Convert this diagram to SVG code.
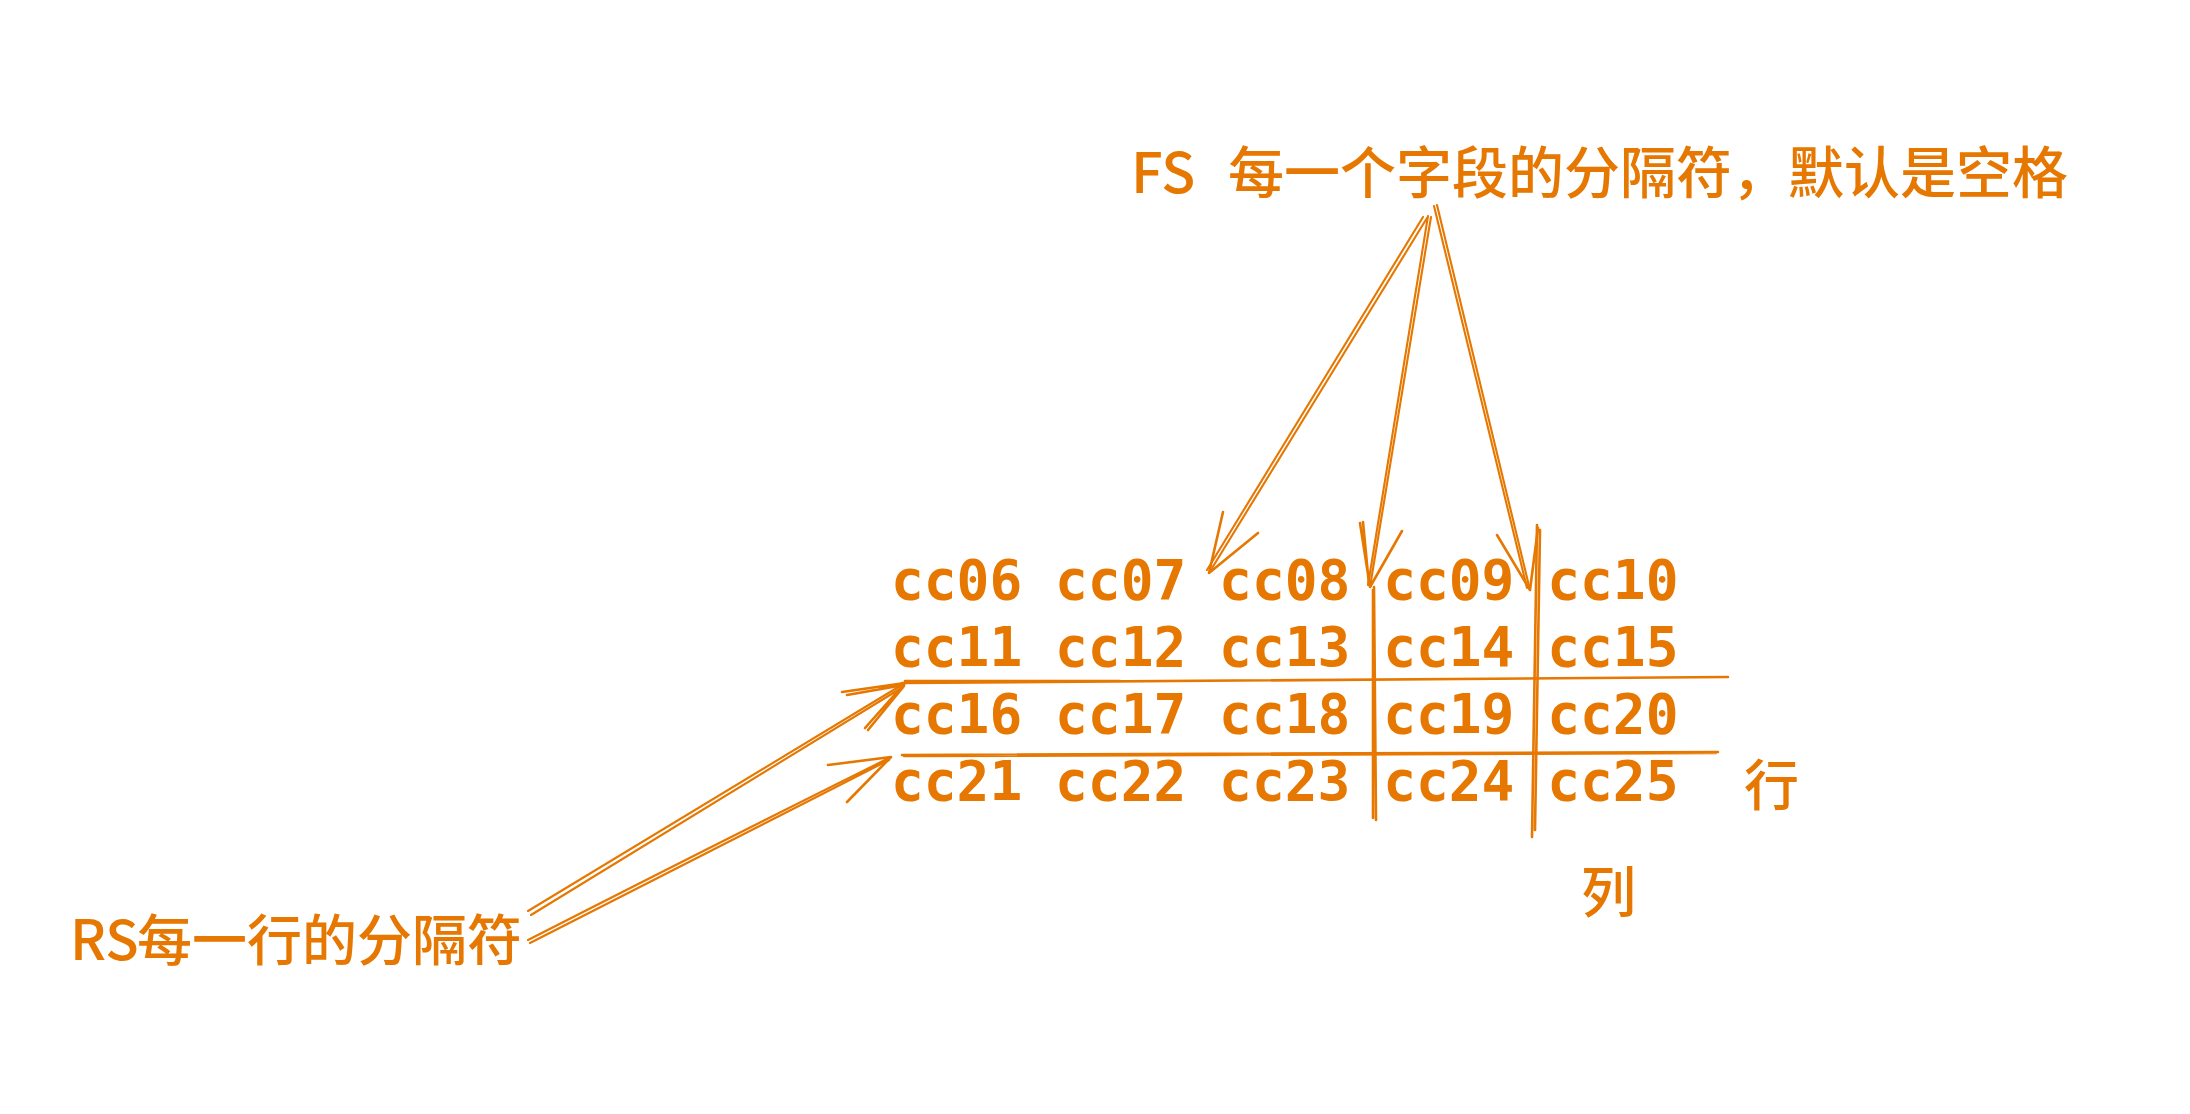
<svg xmlns="http://www.w3.org/2000/svg" width="2190" height="1114" viewBox="0 0 2190 1114">
<style>
.cjk{font-family:"Noto Sans CJK SC","Noto Sans",sans-serif;font-size:55px;fill:#e67700;font-weight:500}
.ttl{font-size:56px}
.mono{font-family:"DejaVu Sans Mono",monospace;font-size:54.5px;font-weight:bold;fill:#e67700}
.ln{fill:none;stroke:#e67700;stroke-width:2.6;stroke-linecap:round;stroke-linejoin:round}
.thin{fill:none;stroke:#e67700;stroke-width:2.1;stroke-linecap:round;stroke-linejoin:round}
</style>
<rect width="2190" height="1114" fill="#ffffff"/>
<g id="title">
<text class="cjk ttl"><tspan x="1131" y="193">FS</tspan><tspan x="1228" y="193">每一个字段的分隔符，默认是空格</tspan></text>
</g>
<g id="rs-label">
<text class="cjk"><tspan x="70" y="960">RS</tspan><tspan x="137" y="960">每一行的分隔符</tspan></text>
</g>
<g id="table">
<text class="mono" x="891" y="599">cc06 cc07 cc08 cc09 cc10</text>
<text class="mono" x="891" y="666">cc11 cc12 cc13 cc14 cc15</text>
<text class="mono" x="891" y="733">cc16 cc17 cc18 cc19 cc20</text>
<text class="mono" x="891" y="800">cc21 cc22 cc23 cc24 cc25</text>
<path class="ln" d="M902,683 L1728,677 M905,681 L1120,681"/>
<path class="ln" d="M902,755 L1718,752 M904,756 L1716,753"/>
<path class="ln" d="M1374,587 L1376,820 M1373,590 L1373,818"/>
<path class="ln" d="M1537,525 L1532,837 M1540,530 L1535,830"/>
</g>
<g id="row-label">
<text class="cjk" x="1744" y="805">行</text>
</g>
<g id="col-label">
<text class="cjk" x="1581" y="912">列</text>
</g>
<g id="connectors">
<path class="thin" d="M1427,218 L1209,573 M1423,217 L1207,570"/>
<path class="ln" d="M1223,512 L1209,573 L1258,533"/>
<path class="thin" d="M1431,217 L1370,587 M1428,216 L1368,585"/>
<path class="ln" d="M1360,523 L1370,587 L1402,531 M1363,522 L1369,585"/>
<path class="thin" d="M1437,205 L1530,590 M1434,206 L1527,588"/>
<path class="ln" d="M1497,535 L1530,590 L1538,528"/>
<path class="thin" d="M528,911 L905,683 M531,915 L903,687"/>
<path class="ln" d="M842,692 L905,683 L865,728 M847,695 L904,685 M868,730 L904,686"/>
<path class="thin" d="M528,940 Q720,842 891,757 M530,943 Q722,846 889,760"/>
<path class="ln" d="M828,765 L891,757 L847,802"/>
</g>
</svg>
